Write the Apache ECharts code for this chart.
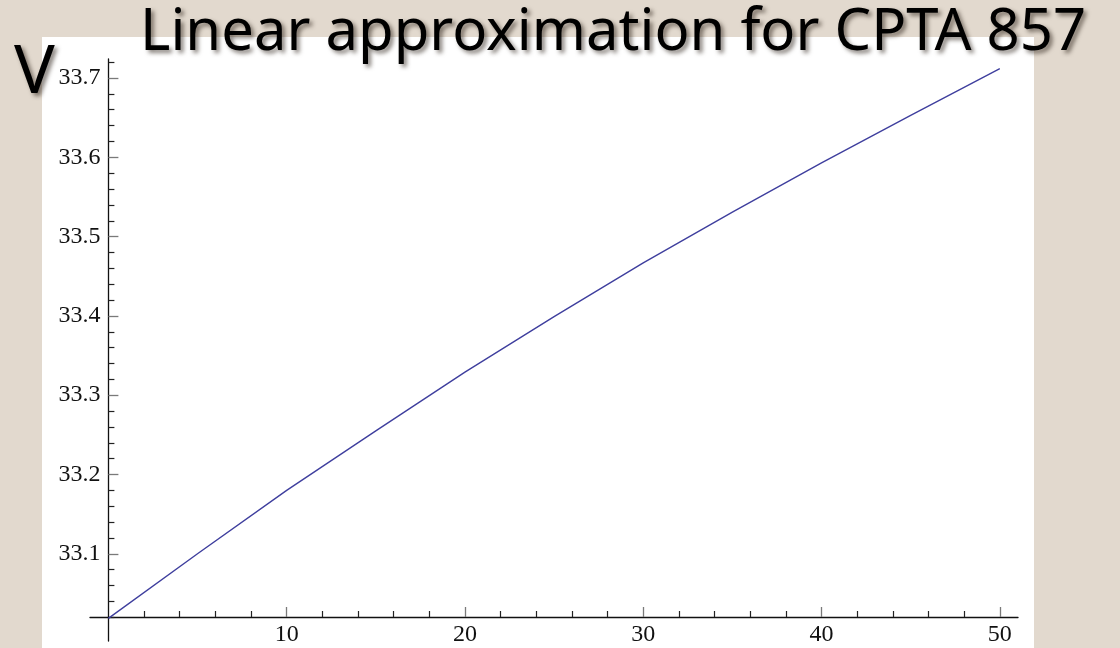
<!DOCTYPE html>
<html><head><meta charset="utf-8">
<script src="https://cdn.jsdelivr.net/npm/echarts@6/dist/echarts.min.js"></script>
<style>html,body{margin:0;padding:0;background:#e2d9ce}#c{width:1120px;height:648px}</style>
</head><body><div id="c"></div>
<script>
const titleText = 'Linear approximation for CPTA 857';
const yName = 'V';
const xValues = [0, 5, 10, 15, 20, 25, 30, 35, 40, 45, 50];
const vValues = [33.0185, 33.100, 33.180, 33.255, 33.329, 33.399, 33.467, 33.531, 33.593, 33.653, 33.712];
const xMajorTicks = [10, 20, 30, 40, 50];
const xMinorTicks = [2, 4, 6, 8, 12, 14, 16, 18, 22, 24, 26, 28, 32, 34, 36, 38, 42, 44, 46, 48];
const yMajorTicks = [33.1, 33.2, 33.3, 33.4, 33.5, 33.6, 33.7];
const yMinorTicks = [33.02, 33.04, 33.06, 33.08, 33.12, 33.14, 33.16, 33.18, 33.22, 33.24, 33.26, 33.28,
  33.32, 33.34, 33.36, 33.38, 33.42, 33.44, 33.46, 33.48, 33.52, 33.54, 33.56, 33.58,
  33.62, 33.64, 33.66, 33.68, 33.72];

const chart = echarts.init(document.getElementById('c'), null, {renderer: 'canvas'});
const serif = '"Liberation Serif", "DejaVu Serif", serif';
const comic = '"Comic Sans MS", "Noto Sans", sans-serif';
const xMin = -1.03, xMax = 51.02, yMin = 32.99, yMax = 33.724;
const titleShadow = {textShadowColor: 'rgba(40,30,20,0.55)', textShadowBlur: 4, textShadowOffsetX: 3, textShadowOffsetY: 3};

chart.setOption({
  backgroundColor: '#e2d9ce',
  animation: false,
  title: [
    {text: titleText, left: 140, top: 4, padding: 0,
     textStyle: Object.assign({fontFamily: comic, fontSize: 58, fontWeight: 'normal', color: '#000'}, titleShadow)},
    {text: yName, left: 14, top: 40, padding: 0,
     textStyle: Object.assign({fontFamily: comic, fontSize: 68, fontWeight: 'normal', color: '#000'}, titleShadow)}
  ],
  graphic: [
    {type: 'rect', z: -10, silent: true, shape: {x: 42, y: 37, width: 992, height: 620}, style: {fill: '#ffffff'}}
  ],
  grid: {left: 90, width: 928, top: 59, height: 582, containLabel: false, outerBoundsMode: 'none'},
  xAxis: [
    {type: 'value', min: xMin, max: xMax, position: 'bottom', offset: -24,
     axisLine: {show: true, onZero: false, lineStyle: {color: '#111', width: 1.3}},
     axisTick: {show: true, inside: true, length: 10, customValues: xMajorTicks, lineStyle: {color: '#7a7a7a', width: 1.3}},
     axisLabel: {show: true, customValues: xMajorTicks, fontFamily: serif, fontSize: 24, color: '#111', margin: 6},
     splitLine: {show: false}},
    {type: 'value', min: xMin, max: xMax, position: 'bottom', offset: -24,
     axisLine: {show: false, onZero: false},
     axisTick: {show: true, inside: true, length: 6, customValues: xMinorTicks, lineStyle: {color: '#222', width: 1.2}},
     axisLabel: {show: false}, splitLine: {show: false}}
  ],
  yAxis: [
    {type: 'value', min: yMin, max: yMax, position: 'left', offset: -18.4,
     axisLine: {show: true, onZero: false, lineStyle: {color: '#111', width: 1.3}},
     axisTick: {show: true, inside: true, length: 10, customValues: yMajorTicks, lineStyle: {color: '#7a7a7a', width: 1.3}},
     axisLabel: {show: true, customValues: yMajorTicks, formatter: v => v.toFixed(1), fontFamily: serif, fontSize: 24, color: '#111', margin: 8},
     splitLine: {show: false}},
    {type: 'value', min: yMin, max: yMax, position: 'left', offset: -18.4,
     axisLine: {show: false, onZero: false},
     axisTick: {show: true, inside: true, length: 6, customValues: yMinorTicks, lineStyle: {color: '#222', width: 1.2}},
     axisLabel: {show: false}, splitLine: {show: false}}
  ],
  series: [{
    type: 'line', xAxisIndex: 0, yAxisIndex: 0,
    data: xValues.map((x, i) => [x, vValues[i]]),
    showSymbol: false, smooth: false,
    lineStyle: {color: '#3f3f9e', width: 1.4}
  }]
});
</script>
</body></html>
